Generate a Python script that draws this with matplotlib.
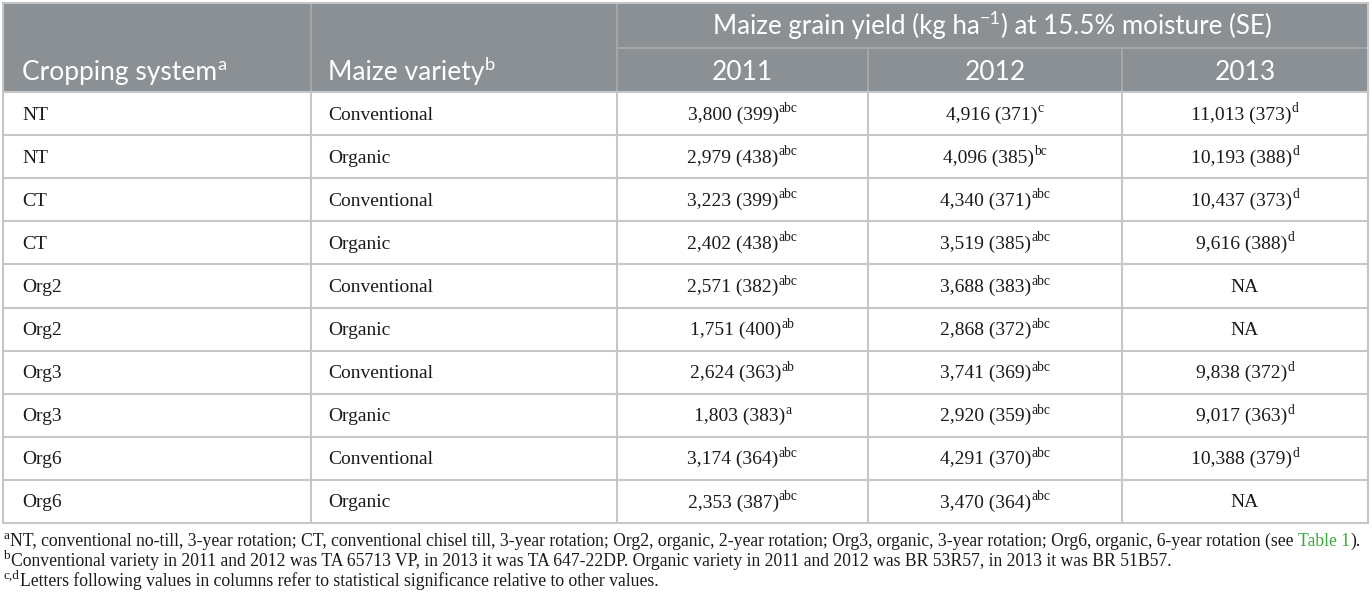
import matplotlib
matplotlib.use("Agg")
import matplotlib.pyplot as plt
from matplotlib.patches import Rectangle

# table content
systems = ["NT", "NT", "CT", "CT", "Org2", "Org2", "Org3", "Org3", "Org6", "Org6"]
varieties = ["Conventional", "Organic"] * 5
years = ["2011", "2012", "2013"]
yield_2011 = [("3,800 (399)", "abc"), ("2,979 (438)", "abc"), ("3,223 (399)", "abc"),
              ("2,402 (438)", "abc"), ("2,571 (382)", "abc"), ("1,751 (400)", "ab"),
              ("2,624 (363)", "ab"), ("1,803 (383)", "a"), ("3,174 (364)", "abc"),
              ("2,353 (387)", "abc")]
yield_2012 = [("4,916 (371)", "c"), ("4,096 (385)", "bc"), ("4,340 (371)", "abc"),
              ("3,519 (385)", "abc"), ("3,688 (383)", "abc"), ("2,868 (372)", "abc"),
              ("3,741 (369)", "abc"), ("2,920 (359)", "abc"), ("4,291 (370)", "abc"),
              ("3,470 (364)", "abc")]
yield_2013 = [("11,013 (373)", "d"), ("10,193 (388)", "d"), ("10,437 (373)", "d"),
              ("9,616 (388)", "d"), ("NA", ""), ("NA", ""), ("9,838 (372)", "d"),
              ("9,017 (363)", "d"), ("10,388 (379)", "d"), ("NA", "")]
footnotes = [
    [("a", True), ("NT, conventional no-till, 3-year rotation; CT, conventional chisel till, "
                   "3-year rotation; Org2, organic, 2-year rotation; Org3, organic, 3-year "
                   "rotation; Org6, organic, 6-year rotation (see ", False),
     ("Table 1", "link"), (").", False)],
    [("b", True), ("Conventional variety in 2011 and 2012 was TA 65713 VP, in 2013 it was "
                   "TA 647-22DP. Organic variety in 2011 and 2012 was BR 53R57, in 2013 it "
                   "was BR 51B57.", False)],
    [("c,d", True), ("Letters following values in columns refer to statistical "
                     "significance relative to other values.", False)],
]

HEAD_BG = "#8b9094"
HEAD_LINE = "#a3a7aa"
GRID = "#c6c6c6"
TXT = "#1a1a1a"
SERIF = "Liberation Serif"
SANS = "Lato"

W, H = 1372, 602
fig = plt.figure(figsize=(W / 100, H / 100), dpi=100)
ax = fig.add_axes([0, 0, 1, 1])
ax.set_xlim(0, W)
ax.set_ylim(H, 0)
ax.axis("off")
renderer = fig.canvas.get_renderer()

col_x = [3, 311, 617, 868, 1122, 1368]
top, head_mid, head_bot = 3, 48, 92
row_h = 43.1
n = len(systems)
bottom = head_bot + n * row_h


def rich(x, y, parts, size, family, ha="left", color=TXT, sup_scale=0.7, gap=0):
    # lay out pieces (text, kind) on one baseline, kind True = superscript
    arts = []
    total = 0
    for s, kind in parts:
        fs = size * sup_scale if kind is True else size
        c = "#3aa83a" if kind == "link" else color
        t = ax.text(0, 0, s, fontsize=fs, family=family, color=c, va="baseline")
        w = t.get_window_extent(renderer).width + (gap if kind is True else 0)
        arts.append((t, w, kind))
        total += w
    x0 = x - total / 2 if ha == "center" else x
    for t, w, kind in arts:
        dy = -size * 100 / 72 * 0.38 if kind is True else 0
        t.set_position((x0, y + dy))
        x0 += w


# header background
ax.add_patch(Rectangle((col_x[0], top), col_x[-1] - col_x[0], head_bot - top,
                       facecolor=HEAD_BG, edgecolor="none"))
for xv in col_x[1:3]:
    ax.plot([xv, xv], [top, head_bot], color=HEAD_LINE, lw=1.5)
for xv in col_x[3:5]:
    ax.plot([xv, xv], [head_mid, head_bot], color=HEAD_LINE, lw=1.5)
ax.plot([col_x[2], col_x[-1]], [head_mid, head_mid], color=HEAD_LINE, lw=1.5)

# body grid
for i in range(n + 1):
    yv = head_bot + i * row_h
    ax.plot([col_x[0], col_x[-1]], [yv, yv], color=GRID, lw=1.5)
for xv in col_x:
    ax.plot([xv, xv], [head_bot, bottom], color=GRID, lw=1.5)
ax.plot([col_x[0], col_x[-1]], [top, top], color=GRID, lw=1.5)
for xv in (col_x[0], col_x[-1]):
    ax.plot([xv, xv], [top, head_bot], color=GRID, lw=1.5)

# header text
hs = 19
rich(22, 80, [("Cropping system", False), ("a", True)], hs, SANS, color="white")
rich(328, 80, [("Maize variety", False), ("b", True)], hs, SANS, color="white")
rich((col_x[2] + col_x[-1]) / 2, 34,
     [("Maize grain yield (kg ha", False), ("\u22121", True),
      (") at 15.5% moisture (SE)", False)], 18.6, SANS, ha="center", color="white")
for j, yr in enumerate(years):
    cx = (col_x[j + 2] + col_x[j + 3]) / 2
    rich(cx, 80, [(yr, False)], hs, SANS, ha="center", color="white")

# body text
bs = 14
for i in range(n):
    yb = head_bot + i * row_h + row_h / 2 + 6
    rich(22, yb, [(systems[i], False)], bs, SERIF)
    rich(328, yb, [(varieties[i], False)], bs, SERIF)
    for j, col in enumerate((yield_2011, yield_2012, yield_2013)):
        val, sup = col[i]
        cx = (col_x[j + 2] + col_x[j + 3]) / 2
        parts = [(val, False)] + ([(sup, True)] if sup else [])
        rich(cx, yb, parts, bs, SERIF, ha="center")

# footnotes
fs = 12.7
for k, line in enumerate(footnotes):
    rich(3, 546 + k * 19.8, line, fs, SERIF, sup_scale=0.75, gap=1.5)

fig.savefig("out.png", dpi=100, facecolor="white")
